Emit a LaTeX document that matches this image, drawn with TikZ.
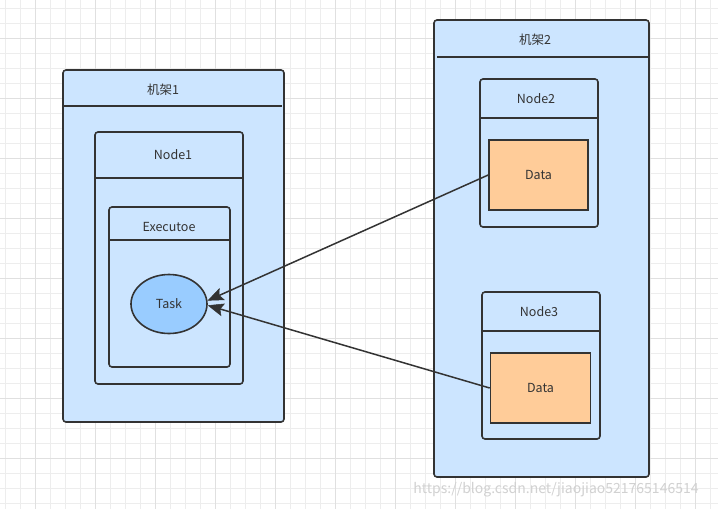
\documentclass[tikz,border=0pt]{standalone}
\usepackage{fontspec}
\setmainfont{Noto Sans CJK SC}
\usetikzlibrary{arrows.meta,shapes.geometric}
\definecolor{boxfill}{HTML}{CCE5FF}
\definecolor{taskfill}{HTML}{99CCFF}
\definecolor{datafill}{HTML}{FFCC99}
\definecolor{edge}{HTML}{333333}
\definecolor{gridminor}{HTML}{EDEDED}
\definecolor{gridmajor}{HTML}{E0E0E0}
\tikzset{
  container/.style={draw=edge, line width=1.6pt, fill=boxfill, rounded corners=3pt, inner sep=0pt},
  sepline/.style={draw=edge, line width=1.6pt},
  datanode/.style={draw=edge, line width=1.6pt, fill=datafill, inner sep=0pt, font=\fontsize{12.5}{14}\selectfont, text=edge},
  tasknode/.style={ellipse, draw=edge, line width=1.6pt, fill=taskfill, inner sep=0pt, font=\fontsize{12.5}{14}\selectfont, text=edge},
  lbl/.style={font=\fontsize{12.5}{14}\selectfont, text=edge, inner sep=0pt},
  conn/.style={draw=edge, line width=1.5pt, -{Stealth[length=16pt,width=13pt,inset=3pt,line width=0.5pt]}}
}
\begin{document}
\begin{tikzpicture}[x=1pt,y=-1pt]
\useasboundingbox (0,0) rectangle (718,509);
\fill[white] (0,0) rectangle (718,509);
% grid
\foreach \i in {5,20,...,718} \draw[gridminor, line width=0.8pt] (\i,0) -- (\i,509);
\foreach \j in {8,23,...,509} \draw[gridminor, line width=0.8pt] (0,\j) -- (718,\j);
\foreach \i in {35,95,...,718} \draw[gridmajor, line width=0.8pt] (\i,0) -- (\i,509);
\foreach \j in {38,98,...,509} \draw[gridmajor, line width=0.8pt] (0,\j) -- (718,\j);

% rack 1
\node[container, minimum width=221pt, minimum height=352pt] (rack1) at (173.5,246) {};
\coordinate (r1a) at (63,106); \coordinate (r1b) at (282,106);
\draw[sepline] (r1a) -- (r1b);
\node[lbl] (r1label) at (163,90) {机架1};

% node1
\node[container, minimum width=148pt, minimum height=252pt] (node1) at (169,258) {};
\coordinate (n1a) at (95,178); \coordinate (n1b) at (243,178);
\draw[sepline] (n1a) -- (n1b);
\node[lbl] (n1label) at (173,155) {Node1};

% executor
\node[container, minimum width=121pt, minimum height=160pt] (exec) at (169.5,287) {};
\coordinate (ea) at (109,240); \coordinate (eb) at (230,240);
\draw[sepline] (ea) -- (eb);
\node[lbl] (elabel) at (169,227) {Executoe};

% task
\node[tasknode, minimum width=76pt, minimum height=59pt] (task) at (169,304) {Task};

% rack 2
\node[container, minimum width=215pt, minimum height=457pt] (rack2) at (541.5,248.5) {};
\coordinate (r2a) at (437,57); \coordinate (r2b) at (649,57);
\draw[sepline] (r2a) -- (r2b);
\node[lbl] (r2label) at (535,40) {机架2};

% node2
\node[container, minimum width=118pt, minimum height=148pt] (node2) at (539,153) {};
\coordinate (n2a) at (480,118); \coordinate (n2b) at (598,118);
\draw[sepline] (n2a) -- (n2b);
\node[lbl] (n2label) at (536,99) {Node2};
\node[datanode, minimum width=99pt, minimum height=70pt] (data2) at (538.5,175) {Data};

% node3
\node[container, minimum width=118pt, minimum height=147pt] (node3) at (541,365.5) {};
\coordinate (n3a) at (482,331); \coordinate (n3b) at (600,331);
\draw[sepline] (n3a) -- (n3b);
\node[lbl] (n3label) at (539,312) {Node3};
\node[datanode, minimum width=100pt, minimum height=70pt] (data3) at (540.5,388) {Data};

% connectors
\draw[conn] (data2.west) -- (task.5);
\draw[conn] (data3.west) -- (task.-2);

% watermark
\node[font=\fontsize{14}{16}\selectfont, text=black!18, inner sep=0pt] (wm) at (556,490) {https://blog.csdn.net/jiaojiao521765146514};
\end{tikzpicture}
\end{document}
